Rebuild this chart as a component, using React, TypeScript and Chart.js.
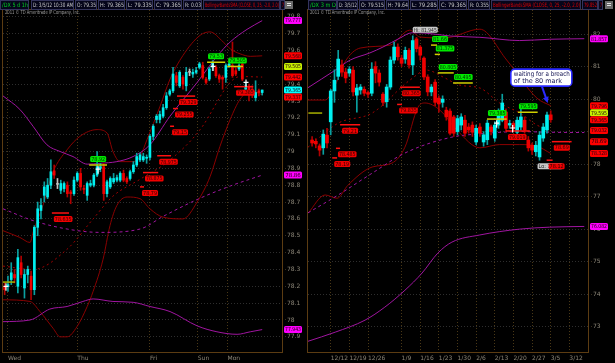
import React, { useEffect, useRef } from 'react';
import { Chart, registerables } from 'chart.js';

Chart.register(...registerables);

const FONT = '"DejaVu Sans", "Liberation Sans", sans-serif';
type Pair = [number, number];

// ================= LEFT PANEL (/DX hourly, Wed – Mon) =================
const leftDayLabels = ['Wed', 'Thu', 'Fri', 'Sun', 'Mon'];
const leftDayIndex = [1, 22, 44, 58.5, 67.5];

const leftOpen = [78.20, 78.20, 78.24, 78.27, 78.20, 78.34, 78.19, 78.27, 78.26, 78.18,
  78.55, 78.65, 78.74, 78.73, 78.80, 78.885, 78.805, 78.77, 78.78, 78.80,
  78.76, 78.75, 78.83, 78.87, 78.78, 78.74, 78.80, 78.80, 78.86, 78.90,
  78.91, 78.75, 78.79, 78.82, 78.83, 78.83, 78.87, 78.84, 78.84, 78.88,
  78.92, 78.95, 78.95, 78.96, 78.965, 79.09, 79.19, 79.19, 79.21, 79.26,
  79.34, 79.36, 79.45, 79.39, 79.44, 79.39, 79.47, 79.46, 79.47, 79.50,
  79.51, 79.43, 79.43, 79.50, 79.50, 79.45, 79.44, 79.44, 79.51, 79.51,
  79.48, 79.49, 79.52, 79.37, 79.385, 79.37, 79.32, 79.36, 79.35];
const leftHigh = [78.22, 78.26, 78.34, 78.30, 78.42, 78.38, 78.30, 78.32, 78.29, 78.56,
  78.70, 78.72, 78.82, 78.84, 78.95, 78.92, 78.84, 78.83, 78.82, 78.82,
  78.77, 78.85, 78.88, 78.90, 78.80, 78.82, 78.83, 78.87, 79.00, 78.93,
  78.93, 78.83, 78.85, 78.87, 78.86, 78.88, 78.89, 78.85, 78.89, 78.94,
  78.99, 78.99, 78.99, 78.98, 79.10, 79.16, 79.22, 79.24, 79.28, 79.35,
  79.37, 79.50, 79.47, 79.48, 79.45, 79.50, 79.49, 79.49, 79.50, 79.53,
  79.53, 79.44, 79.50, 79.54, 79.51, 79.46, 79.45, 79.52, 79.53, 79.65,
  79.50, 79.52, 79.53, 79.41, 79.40, 79.39, 79.42, 79.37, 79.365];
const leftLow = [78.15, 78.17, 78.21, 78.22, 78.16, 78.25, 78.13, 78.22, 78.12, 78.15,
  78.50, 78.60, 78.70, 78.72, 78.78, 78.84, 78.78, 78.75, 78.76, 78.73,
  78.69, 78.74, 78.82, 78.77, 78.75, 78.71, 78.79, 78.79, 78.85, 78.88,
  78.71, 78.73, 78.78, 78.81, 78.82, 78.82, 78.82, 78.81, 78.83, 78.87,
  78.91, 78.94, 78.94, 78.93, 78.95, 79.07, 79.17, 79.17, 79.20, 79.25,
  79.33, 79.35, 79.39, 79.38, 79.37, 79.36, 79.45, 79.44, 79.46, 79.49,
  79.43, 79.40, 79.42, 79.48, 79.44, 79.41, 79.37, 79.41, 79.50, 79.44,
  79.45, 79.48, 79.42, 79.35, 79.30, 79.32, 79.30, 79.33, 79.335];
const leftClose = [78.18, 78.21, 78.28, 78.25, 78.37, 78.27, 78.27, 78.30, 78.18, 78.55,
  78.66, 78.68, 78.79, 78.80, 78.88, 78.86, 78.805, 78.81, 78.81, 78.75,
  78.75, 78.83, 78.87, 78.79, 78.775, 78.81, 78.81, 78.86, 78.91, 78.91,
  78.75, 78.82, 78.84, 78.84, 78.845, 78.87, 78.83, 78.82, 78.88, 78.92,
  78.97, 78.98, 78.97, 78.965, 79.09, 79.15, 79.21, 79.22, 79.26, 79.33,
  79.36, 79.46, 79.41, 79.47, 79.40, 79.47, 79.47, 79.47, 79.48, 79.52,
  79.44, 79.41, 79.49, 79.53, 79.45, 79.43, 79.43, 79.51, 79.52, 79.45,
  79.46, 79.51, 79.43, 79.39, 79.36, 79.34, 79.35, 79.35, 79.365];

const leftFastUpper: Pair[] = [[-0.5, 78.53], [4.6, 78.49], [7.7, 78.46], [8.6, 78.52], [11.6, 78.68], [14.7, 78.88], [18.9, 79.01], [22.8, 79.09], [28, 79.13], [31, 79.11], [32.8, 79.0], [35, 78.94], [38.9, 78.94], [41, 78.97], [43.1, 79.07], [47.1, 79.27], [50.1, 79.43], [54, 79.57], [59.2, 79.69], [62.2, 79.71], [66.2, 79.65], [68.3, 79.61], [71.3, 79.58], [74.4, 79.565], [78, 79.568]];
const leftFastMid: Pair[] = [[-0.5, 78.32], [8.6, 78.3], [18.9, 78.42], [26.8, 78.6], [32.8, 78.735], [41, 78.835], [50.1, 78.95], [59.2, 79.13], [68.3, 79.41], [71.3, 79.445], [78, 79.442]];
const leftFastLower: Pair[] = [[-0.5, 78.12], [7.7, 78.11], [10.7, 78.05], [14.7, 77.95], [16.8, 77.9], [18.9, 77.9], [21.9, 77.96], [25, 78.08], [26.8, 78.17], [29.8, 78.36], [31.9, 78.56], [34, 78.68], [37.1, 78.73], [41, 78.72], [44, 78.66], [48, 78.61], [54, 78.6], [58.3, 78.7], [62.2, 78.85], [65.2, 79.03], [68.3, 79.19], [71.3, 79.31], [74.4, 79.36], [78, 79.337]];
const leftSlowUpper: Pair[] = [[-0.5, 79.33], [4.6, 79.25], [8.6, 79.15], [12.8, 79.04], [16.8, 79.0], [20.7, 78.97], [25, 78.925], [28.9, 78.93], [34, 78.94], [38.9, 78.97], [44, 79.04], [50.1, 79.21], [58.3, 79.41], [64.3, 79.565], [68.3, 79.65], [73.4, 79.725], [78, 79.777]];
const leftSlowMid: Pair[] = [[-0.5, 78.66], [8.6, 78.59], [18.9, 78.54], [28.9, 78.52], [41, 78.54], [48, 78.615], [58.3, 78.715], [68.3, 78.795], [78, 78.86]];
const leftSlowLower: Pair[] = [[-0.5, 77.99], [7.7, 78.0], [13.7, 78.065], [18.9, 78.08], [23.7, 78.11], [26.8, 78.125], [32.8, 78.11], [38.9, 78.105], [44, 78.08], [50.1, 78.05], [58.3, 77.965], [64.3, 77.93], [70.4, 77.915], [74.4, 77.93], [78, 77.943]];

const leftStopFrom = [52.2, 51, 50.1, 46.2, 41.9, 41, 14.3, 69.5];
const leftStopTo = [57.7, 52.5, 51.3, 50.4, 46.5, 42.2, 19.5, 75.3];
const leftStopValue = [79.329, 79.255, 79.15, 78.975, 78.875, 78.79, 78.635, 79.385];
const leftTargetFrom = [61.3, 67.4, 25.6];
const leftTargetTo = [66.8, 72.2, 31];
const leftTargetValue = [79.53, 79.505, 78.92];
const leftLevelFrom = [-0.8];
const leftLevelTo = [3.1];
const leftLevelValue = [78.225];
const leftCrossIndex = [0.4, 28.3, 63.1, 73.1];
const leftCrossValue = [78.2, 78.895, 79.505, 79.41];
const leftTagValue = [79.777, 79.568, 79.505, 79.442, 79.365, 79.337, 78.86, 77.943];
const leftTagSeries = ['slow', 'fast', 'target', 'fast', 'close', 'fast', 'slow', 'slow'];

// ================= RIGHT PANEL (/DX daily, 3 months) =================
const rightWeekLabels = ['12/12', '12/19', '12/26', '1/9', '1/16', '1/23', '1/30', '2/6', '2/13', '2/20', '2/27', '3/5', '3/12'];
const rightWeekIndex = [5, 10, 15, 24, 29, 34, 39, 44, 49, 54, 59, 64, 69];

const rightOpen = [78.74, 78.70, 78.56, 78.50, 78.89, 79.30, 80.25, 80.70, 81.05, 80.83,
  80.80, 80.89, 80.12, 80.28, 80.30, 80.20, 80.18, 81.00, 80.80, 80.15,
  79.92, 80.37, 81.20, 81.60, 81.26, 81.23, 81.50, 81.05, 81.85, 81.60,
  81.26, 80.68, 80.22, 80.52, 80.03, 79.90, 79.66, 79.63, 79.45, 79.00,
  79.20, 79.35, 79.14, 79.20, 78.68, 79.14, 78.68, 78.75, 79.14, 78.80,
  79.20, 79.35, 79.60, 79.20, 79.25, 78.98, 79.14, 79.35, 78.74, 78.58,
  78.38, 78.22, 78.80, 79.05, 79.515];
const rightHigh = [78.85, 78.78, 78.62, 79.05, 79.10, 80.30, 80.90, 81.50, 81.20, 80.95,
  81.00, 81.00, 80.45, 80.45, 80.38, 80.25, 81.12, 81.15, 80.90, 80.20,
  80.45, 81.30, 81.75, 81.70, 81.35, 81.60, 81.55, 81.945, 81.90, 81.65,
  81.30, 80.75, 80.45, 80.60, 80.10, 80.10, 79.75, 79.70, 79.50, 79.50,
  79.55, 79.50, 79.25, 79.30, 79.20, 79.25, 79.00, 79.35, 79.20, 79.30,
  79.70, 80.15, 79.70, 79.35, 79.30, 79.45, 79.70, 79.45, 78.85, 78.65,
  78.70, 79.00, 79.25, 79.60, 79.64];
const rightLow = [78.55, 78.50, 78.25, 78.30, 78.50, 78.90, 79.90, 80.60, 80.70, 80.50,
  80.70, 80.10, 79.60, 80.15, 80.10, 80.05, 80.10, 80.50, 80.40, 79.80,
  79.75, 80.30, 81.10, 81.20, 81.00, 81.10, 80.95, 80.75, 81.45, 81.20,
  80.60, 80.10, 80.10, 79.80, 79.60, 79.75, 79.35, 78.90, 78.85, 78.90,
  79.05, 78.85, 78.95, 78.85, 78.60, 78.85, 78.55, 78.60, 78.90, 78.70,
  79.10, 79.30, 79.00, 79.10, 79.00, 78.85, 79.05, 78.95, 78.40, 78.30,
  78.25, 78.12, 78.70, 78.95, 79.285];
const rightClose = [78.65, 78.62, 78.43, 78.92, 78.65, 80.25, 80.58, 81.23, 80.83, 80.65,
  80.92, 80.22, 80.34, 80.37, 80.18, 80.15, 80.92, 80.80, 80.52, 79.90,
  80.37, 81.20, 81.60, 81.30, 81.10, 81.50, 81.05, 81.80, 81.55, 81.35,
  80.68, 80.22, 80.37, 79.90, 79.85, 80.00, 79.45, 78.95, 78.95, 79.40,
  79.45, 78.95, 79.05, 78.98, 79.10, 78.95, 78.90, 79.26, 79.00, 79.20,
  79.60, 79.88, 79.10, 79.25, 79.10, 79.35, 79.45, 79.05, 78.50, 78.43,
  78.58, 78.89, 79.14, 79.51, 79.365];

const rightFastUpper: Pair[] = [[-1.1, 79.97], [3.5, 79.97], [6.2, 80.43], [8.8, 81.14], [12.9, 81.57], [20.9, 81.66], [26.2, 82.12], [28.9, 81.91], [35.6, 81.88], [45, 82.15], [52.2, 81.2], [60.3, 80.03], [64, 79.796]];
const rightFastMid: Pair[] = [[-1.1, 78.52], [7, 79.26], [16.1, 79.57], [26.2, 80.58], [30.8, 80.89], [35.1, 80.68], [39.6, 80.43], [45, 80.34], [50.3, 79.88], [55.7, 79.57], [60.3, 79.2], [64, 79.032]];
const rightFastLower: Pair[] = [[-1.1, 76.49], [3.5, 77.05], [6.7, 76.95], [9.6, 77.35], [16.1, 77.91], [21.4, 78.03], [24.9, 78.52], [28.4, 79.75], [30.3, 79.88], [34.3, 79.66], [38.8, 79.05], [45, 78.5], [50.3, 78.6], [55.7, 78.6], [60.3, 78.55], [64, 78.328]];
const rightSlowUpper: Pair[] = [[-1.1, 80.35], [6.2, 80.89], [10.2, 81.2], [15.5, 81.42], [19, 81.6], [23.6, 81.88], [26.8, 82.04], [30.3, 82.03], [37, 81.94], [45, 81.9], [55.7, 81.8], [63.7, 81.84], [73, 81.857]];
const rightSlowMid: Pair[] = [[-1.1, 76.5], [7, 77.05], [16.1, 77.72], [24.9, 78.34], [37.5, 78.83], [45, 78.93], [55.7, 79.0], [63.7, 78.98], [73, 78.97]];
const rightSlowLower: Pair[] = [[-1.1, 72.55], [6.2, 72.83], [14.2, 73.2], [19.5, 73.6], [24.9, 74.12], [29.5, 74.65], [33.7, 75.26], [37.5, 75.6], [45, 75.82], [55.7, 76.0], [63.7, 76.06], [73, 76.082]];

const rightStopFrom = [7.5, 6.4, 5.4, 23.6, 22.8, 52, 64.3, 62.9];
const rightStopTo = [12.9, 7.5, 6.7, 28.9, 24.1, 58.4, 69.6, 64.5];
const rightStopValue = [79.21, 78.485, 78.19, 80.365, 79.835, 79.019, 78.69, 78.12];
const rightTargetFrom = [31.9, 32.9, 33.7, 37.8, 46.9, 55.2];
const rightTargetTo = [33.5, 34.3, 38, 43.1, 52.2, 60.5];
const rightTargetValue = [81.66, 81.375, 80.805, 80.495, 79.385, 79.595];
const rightLevelFrom = [-1];
const rightLevelTo = [2.7];
const rightLevelValue = [79.57];
const rightCrossIndex = [49.5, 53.8];
const rightCrossValue = [79.26, 79.11];
const rightTagValue = [81.857, 79.796, 79.595, 79.365, 79.032, 78.69, 78.328, 76.082];
const rightTagSeries = ['slow', 'fast', 'target', 'close', 'fast', 'fast', 'fast', 'slow'];
const rightNoteLines = ['waiting for a breach', 'of the 80 mark'];
const rightNoteAt: Pair = [53.3, 80.92];
const rightNoteTarget: Pair = [63.2, 79.88];

// ================= styles =================
const CYAN = '#00f0f0';
const CYAN_WICK = '#0aa0a0';
const RED = '#f00000';
const RED_WICK = '#b00000';
const GRAY = '#c0c0c0';
const FAST = '#8a0000';
const SLOW = '#a015a0';
const FRAME = '#5c3c12';
const LABEL = '#8c8678';

const fmt = (v: number) => String(+v.toFixed(3));

function rrect(ctx: any, x: number, y: number, w: number, h: number, r: number) {
  ctx.beginPath();
  if (ctx.roundRect) ctx.roundRect(x, y, w, h, r);
  else ctx.rect(x, y, w, h);
}

function box(ctx: any, x: number, y: number, text: string, fill: string, ink: string, w?: number, h = 6) {
  const width = w ?? text.length * 2.6 + 3;
  rrect(ctx, x, y, width, h, 1.5);
  ctx.fillStyle = fill;
  ctx.fill();
  ctx.fillStyle = ink;
  ctx.font = `5.5px ${FONT}`;
  ctx.textAlign = 'center';
  ctx.textBaseline = 'middle';
  ctx.fillText(text, x + width / 2, y + h / 2 + 0.4, width - 2);
}

function buildPanel(p: any) {
  const n = p.open.length;
  const last = n - 1;
  const dir = p.open.map((o: number, i: number) => (p.close[i] > o ? 1 : p.close[i] < o ? -1 : 0));
  const datasets: any[] = [
    {
      type: 'bar', label: 'range', order: 1, grouped: false, barThickness: 1, minBarLength: 1,
      data: p.open.map((_: number, i: number) => ({ x: i, y: [p.low[i], p.high[i]] })),
      backgroundColor: dir.map((d: number) => (d > 0 ? CYAN_WICK : d < 0 ? RED_WICK : GRAY)),
    },
    {
      type: 'bar', label: 'body', order: 0, grouped: false, barThickness: p.bodyWidth, minBarLength: 1,
      data: p.open.map((o: number, i: number) => ({ x: i, y: [o, p.close[i]] })),
      backgroundColor: dir.map((d: number) => (d > 0 ? CYAN : d < 0 ? RED : GRAY)),
    },
  ];
  p.bands.forEach((b: any) => {
    datasets.push({
      type: 'line', label: b.name, order: 3, data: b.pts.map((q: Pair) => ({ x: q[0], y: q[1] })),
      borderColor: b.color, borderWidth: 1, borderDash: b.dash, pointRadius: 0, fill: false,
      tension: 0.4, cubicInterpolationMode: 'monotone',
    });
  });
  const lastUp = p.close[last] >= p.open[last];
  const tagColor = (s: string) => (s === 'slow' ? '#ff00ff' : s === 'fast' ? '#ff0000' : s === 'target' ? '#c8f000' : lastUp ? '#00ffff' : '#ff0000');
  const hi = Math.max(...p.high);
  const lo = Math.min(...p.low);
  const hiIdx = p.high.indexOf(hi);
  const loIdx = p.low.indexOf(lo);
  const headerTexts = p.headerHead.concat([
    `O: ${fmt(p.open[last])}`, `H: ${fmt(p.high[last])}`, `L: ${fmt(p.low[last])}`,
    `C: ${fmt(p.close[last])}`, `R: ${fmt(p.high[last] - p.low[last])}`,
  ]).concat(p.headerTail);

  const plugin = {
    id: 'overlay',
    afterDatasetsDraw(chart: any) {
      const ctx = chart.ctx;
      const a = chart.chartArea;
      const X = (i: number) => chart.scales.x.getPixelForValue(i);
      const Y = (v: number) => chart.scales.y.getPixelForValue(v);
      ctx.save();
      ctx.beginPath();
      ctx.rect(a.left, a.top, a.right - a.left, a.bottom - a.top);
      ctx.clip();
      ctx.lineWidth = 1.5;
      ctx.strokeStyle = '#a8b000';
      p.levelFrom.forEach((f: number, k: number) => {
        ctx.beginPath(); ctx.moveTo(X(f), Y(p.levelValue[k])); ctx.lineTo(X(p.levelTo[k]), Y(p.levelValue[k])); ctx.stroke();
      });
      p.targetFrom.forEach((f: number, k: number) => {
        const y = Y(p.targetValue[k]);
        ctx.lineWidth = 1.5; ctx.strokeStyle = '#d0d000';
        ctx.beginPath(); ctx.moveTo(X(f), y); ctx.lineTo(X(p.targetTo[k]), y); ctx.stroke();
        box(ctx, X(f) + 1, y - 9, fmt(p.targetValue[k]), '#00e800', '#003000');
      });
      if (p.hiLo) {
        box(ctx, X(hiIdx), Y(hi) - 9, `Hi: ${fmt(hi)}`, '#c8c8c8', '#202020', 25);
        box(ctx, X(loIdx) - 2, Y(lo) + 3, `Lo: ${fmt(lo)}`, '#c8c8c8', '#202020', 25);
      }
      p.stopFrom.forEach((f: number, k: number) => {
        const y = Y(p.stopValue[k]);
        ctx.lineWidth = 1.5; ctx.strokeStyle = '#ff1010';
        ctx.beginPath(); ctx.moveTo(X(f), y); ctx.lineTo(X(p.stopTo[k]), y); ctx.stroke();
        box(ctx, X(f) + 2, y + 3, fmt(p.stopValue[k]), '#f00000', '#300000');
      });
      ctx.strokeStyle = '#ffffff'; ctx.lineWidth = 1.2;
      p.crossIndex.forEach((ci: number, k: number) => {
        const x = X(ci), y = Y(p.crossValue[k]);
        ctx.beginPath(); ctx.moveTo(x - 2.5, y); ctx.lineTo(x + 2.5, y); ctx.moveTo(x, y - 3); ctx.lineTo(x, y + 4.5); ctx.stroke();
      });
      if (p.note) {
        const bx = X(p.note.at[0]), by = Y(p.note.at[1]);
        const tx = X(p.note.target[0]), ty = Y(p.note.target[1]);
        const sx = bx + 31, sy = by + 17;
        ctx.strokeStyle = '#2a2aff'; ctx.fillStyle = '#2a2aff'; ctx.lineWidth = 2;
        const ang = Math.atan2(ty - sy, tx - sx);
        ctx.beginPath(); ctx.moveTo(sx, sy); ctx.lineTo(tx - 4 * Math.cos(ang), ty - 4 * Math.sin(ang)); ctx.stroke();
        ctx.beginPath();
        ctx.moveTo(tx, ty);
        ctx.lineTo(tx - 6 * Math.cos(ang) + 3 * Math.sin(ang), ty - 6 * Math.sin(ang) - 3 * Math.cos(ang));
        ctx.lineTo(tx - 6 * Math.cos(ang) - 3 * Math.sin(ang), ty - 6 * Math.sin(ang) + 3 * Math.cos(ang));
        ctx.closePath(); ctx.fill();
        rrect(ctx, bx, by, 61, 17, 4);
        ctx.fillStyle = '#ffffff'; ctx.fill();
        ctx.lineWidth = 1.6; ctx.strokeStyle = '#2a2aff'; ctx.stroke();
        ctx.fillStyle = '#101050'; ctx.font = `6.5px ${FONT}`; ctx.textAlign = 'left'; ctx.textBaseline = 'middle';
        p.note.lines.forEach((t: string, k: number) => ctx.fillText(t, bx + 3, by + 5 + k * 7, 56));
      }
      ctx.restore();
    },
    afterDraw(chart: any) {
      const ctx = chart.ctx;
      const a = chart.chartArea;
      const Y = (v: number) => chart.scales.y.getPixelForValue(v);
      ctx.save();
      ctx.strokeStyle = FRAME; ctx.lineWidth = 1;
      ctx.strokeRect(a.left - 0.5, a.top - 0.5, a.right - a.left + 1, a.bottom - a.top + 1);
      ctx.fillStyle = '#9a9a9a'; ctx.font = `5.5px ${FONT}`; ctx.textAlign = 'left'; ctx.textBaseline = 'middle';
      ctx.fillText('2011 \u00a9 TD Ameritrade IP Company, Inc.', a.left + 2, a.top + 3, 75);
      const items = p.tagValue.map((v: number, k: number) => ({ y: Y(v), text: fmt(v), fill: tagColor(p.tagSeries[k]) }))
        .sort((u: any, w: any) => u.y - w.y);
      let prev = -1e9;
      items.forEach((it: any) => {
        it.y = Math.max(it.y, prev + 7);
        prev = it.y;
        box(ctx, a.right + 2, it.y - 3.5, it.text, it.fill, '#200010', 18, 7);
      });
      ctx.font = `6px ${FONT}`; ctx.textAlign = 'left'; ctx.textBaseline = 'middle';
      headerTexts.forEach((t: string, k: number) => {
        const [bx, bw] = p.headerBoxes[k];
        ctx.fillStyle = '#05051a'; ctx.fillRect(bx, 0, bw, 10);
        ctx.strokeStyle = '#34345c'; ctx.lineWidth = 1; ctx.strokeRect(bx + 0.5, 0.5, bw - 1, 9);
        ctx.fillStyle = p.headerColors[k];
        ctx.fillText(t, bx + 2, 5.2, bw - 3);
      });
      ctx.fillStyle = '#6a6a6a'; ctx.fillRect(p.iconX, 1, 8, 8);
      ctx.fillStyle = '#e0e0e0'; ctx.fillRect(p.iconX + 2, 3, 4, 1); ctx.fillRect(p.iconX + 2, 5, 4, 1);
      ctx.restore();
    },
  };

  return {
    type: 'bar',
    data: { datasets },
    options: {
      responsive: false, animation: false, devicePixelRatio: 1, events: [],
      layout: { padding: { left: p.padLeft, top: 10, right: 0, bottom: 0 } },
      plugins: { legend: { display: false }, tooltip: { enabled: false } },
      scales: {
        x: {
          type: 'linear', min: p.xMin, max: p.xMax, offset: false, bounds: 'data',
          afterBuildTicks: (s: any) => { s.ticks = p.tickIndex.map((v: number) => ({ value: v })); },
          afterFit: (s: any) => { s.height = 11; },
          ticks: {
            autoSkip: false, maxRotation: 0, minRotation: 0, align: 'start', padding: 0, color: LABEL,
            font: { size: 6, family: FONT },
            callback: (_v: any, i: number) => p.tickLabels[i],
          },
          grid: { color: '#4a3816', offset: false, tickLength: 3, tickBorderDash: [1, 2], tickColor: '#4a3816' },
          border: { display: false, dash: [1, 2] },
        },
        y: {
          type: 'linear', position: 'right', min: p.yMin, max: p.yMax, bounds: 'data', beginAtZero: false,
          afterBuildTicks: (s: any) => {
            const t: any[] = [];
            for (let k = Math.ceil(p.yMin / p.yStep - 1e-9); k * p.yStep <= p.yMax + 1e-9; k++) {
              t.push({ value: +(k * p.yStep).toFixed(4) });
            }
            s.ticks = t;
          },
          afterFit: (s: any) => { s.width = p.axisWidth; },
          ticks: {
            autoSkip: false, padding: 1, color: LABEL, font: { size: 6, family: FONT },
            callback: (v: number) => String(Math.round(v * 10) / 10),
          },
          grid: { color: '#2e2e2e', tickLength: 4, tickBorderDash: [1, 2], tickColor: '#3a3020' },
          border: { display: false, dash: [1, 2] },
        },
      },
    },
    plugins: [plugin],
  };
}

const leftPanel = {
  open: leftOpen, high: leftHigh, low: leftLow, close: leftClose, bodyWidth: 2,
  xMin: -0.5, xMax: 84, yMin: 77.81, yMax: 79.84, yStep: 0.1,
  tickIndex: leftDayIndex, tickLabels: leftDayLabels, padLeft: 3, axisWidth: 24,
  bands: [
    { name: 'slow upper', pts: leftSlowUpper, color: SLOW, dash: [] },
    { name: 'slow mid', pts: leftSlowMid, color: SLOW, dash: [3, 3] },
    { name: 'slow lower', pts: leftSlowLower, color: SLOW, dash: [] },
    { name: 'fast upper', pts: leftFastUpper, color: FAST, dash: [] },
    { name: 'fast mid', pts: leftFastMid, color: '#a00000', dash: [2, 3] },
    { name: 'fast lower', pts: leftFastLower, color: FAST, dash: [] },
  ],
  stopFrom: leftStopFrom, stopTo: leftStopTo, stopValue: leftStopValue,
  targetFrom: leftTargetFrom, targetTo: leftTargetTo, targetValue: leftTargetValue,
  levelFrom: leftLevelFrom, levelTo: leftLevelTo, levelValue: leftLevelValue,
  crossIndex: leftCrossIndex, crossValue: leftCrossValue,
  tagValue: leftTagValue, tagSeries: leftTagSeries, hiLo: false, note: null,
  headerHead: ['/DX 5 d 1h', 'D: 3/5/12 10:30 AM'],
  headerTail: ['BollingerBandsSMA (CLOSE, 0, 25, -2.0, 2.0)', '7'],
  headerBoxes: [[0, 29], [31, 43], [75, 22], [98, 27], [126, 27], [154, 28], [183, 19], [203, 77], [280, 5]],
  headerColors: ['#00d020', '#c8c8c8', '#c8c8c8', '#c8c8c8', '#c8c8c8', '#c8c8c8', '#c8c8c8', '#e00000', '#e00000'],
  iconX: 285,
};

const rightPanel = {
  open: rightOpen, high: rightHigh, low: rightLow, close: rightClose, bodyWidth: 3,
  xMin: -1.1, xMax: 74, yMin: 72.22, yMax: 82.74, yStep: 1,
  tickIndex: rightWeekIndex, tickLabels: rightWeekLabels, padLeft: 2, axisWidth: 27,
  bands: [
    { name: 'slow upper', pts: rightSlowUpper, color: SLOW, dash: [] },
    { name: 'slow mid', pts: rightSlowMid, color: SLOW, dash: [3, 3] },
    { name: 'slow lower', pts: rightSlowLower, color: SLOW, dash: [] },
    { name: 'fast upper', pts: rightFastUpper, color: FAST, dash: [] },
    { name: 'fast mid', pts: rightFastMid, color: '#a00000', dash: [2, 3] },
    { name: 'fast lower', pts: rightFastLower, color: FAST, dash: [] },
  ],
  stopFrom: rightStopFrom, stopTo: rightStopTo, stopValue: rightStopValue,
  targetFrom: rightTargetFrom, targetTo: rightTargetTo, targetValue: rightTargetValue,
  levelFrom: rightLevelFrom, levelTo: rightLevelTo, levelValue: rightLevelValue,
  crossIndex: rightCrossIndex, crossValue: rightCrossValue,
  tagValue: rightTagValue, tagSeries: rightTagSeries, hiLo: true,
  note: { lines: rightNoteLines, at: rightNoteAt, target: rightNoteTarget },
  headerHead: ['/DX 3 m D', 'D: 3/5/12'],
  headerTail: ['BollingerBandsSMA (CLOSE, 0, 25, -2.0, 2.0)', '79.852', '7'],
  headerBoxes: [[2, 29], [31, 21], [53, 26], [80, 23], [104, 28], [133, 28], [162, 22], [185, 90], [276, 16], [292, 5]],
  headerColors: ['#00d020', '#c8c8c8', '#c8c8c8', '#c8c8c8', '#c8c8c8', '#c8c8c8', '#c8c8c8', '#e00000', '#e00000', '#e00000'],
  iconX: 299,
};

export default function App() {
  const leftRef = useRef<HTMLCanvasElement>(null);
  const rightRef = useRef<HTMLCanvasElement>(null);
  useEffect(() => {
    document.body.style.margin = '0';
    document.body.style.background = '#000';
    const c1 = new Chart(leftRef.current as any, buildPanel(leftPanel) as any);
    const c2 = new Chart(rightRef.current as any, buildPanel(rightPanel) as any);
    return () => { c1.destroy(); c2.destroy(); };
  }, []);
  return (
    <div style={{ position: 'fixed', left: 0, top: 0, width: 615, height: 363, background: '#000', overflow: 'hidden' }}>
      <canvas ref={leftRef} width={306} height={363} style={{ position: 'absolute', left: 0, top: 0, width: 306, height: 363 }} />
      <canvas ref={rightRef} width={309} height={363} style={{ position: 'absolute', left: 306, top: 0, width: 309, height: 363 }} />
    </div>
  );
}
